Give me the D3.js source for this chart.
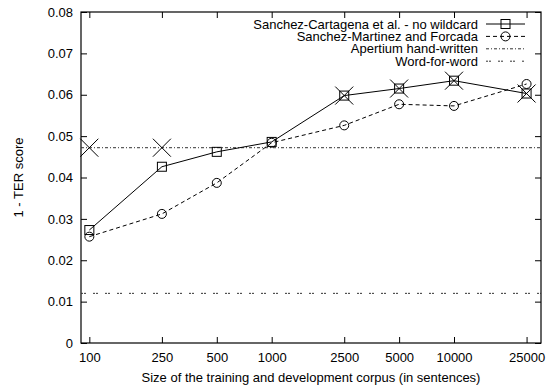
<!DOCTYPE html>
<html>
<head>
<meta charset="utf-8">
<script src="https://cdn.jsdelivr.net/npm/d3@7/dist/d3.min.js"></script>
<style>
  html, body { margin: 0; padding: 0; background: #fff; }
  svg { display: block; font-family: "Liberation Sans", Arial, Helvetica, sans-serif; }
</style>
</head>
<body>
<svg id="chart" width="553" height="389"></svg>
<script>
// Corpus sizes (sentences) and scores
const corpusSizes = [100, 250, 500, 1000, 2500, 5000, 10000, 25000];
const xTickLabels = ["100", "250", "500", "1000", "2500", "5000", "10000", "25000"];
const yTicks = [0, 0.01, 0.02, 0.03, 0.04, 0.05, 0.06, 0.07, 0.08];

const cartagenaNoWildcard = [0.0273, 0.0426, 0.0462, 0.0486, 0.0598, 0.0615, 0.0634, 0.0603];
const martinezForcada     = [0.0257, 0.0312, 0.0387, 0.0484, 0.0526, 0.0577, 0.0573, 0.0626];
const apertiumHandWritten = 0.0472;
const wordForWord         = 0.0120;

// Cross markers (sizes and scores)
const crossSizes  = [100, 250, 2500, 5000, 10000, 25000];
const crossScores = [0.0472, 0.0472, 0.0598, 0.0615, 0.0634, 0.0603];

const legendLabels = [
  "Sanchez-Cartagena et al. - no wildcard",
  "Sanchez-Martinez and Forcada",
  "Apertium hand-written",
  "Word-for-word"
];

const margin = { left: 81, right: 12, top: 12, bottom: 46 };
const width = 553, height = 389;
const svg = d3.select("#chart");

const x = d3.scaleLog().domain([90, 30000]).range([margin.left, width - margin.right]);
const y = d3.scaleLinear().domain([0, 0.08]).range([height - margin.bottom, margin.top]);

const fontSize = 13;
const tickLen = 6;

// Axes: ticks pointing inward, mirrored on opposite sides
const xBottom = d3.axisBottom(x).tickValues(corpusSizes)
  .tickFormat((d, i) => xTickLabels[i]).tickSizeInner(-tickLen).tickSizeOuter(0).tickPadding(10);
const xTop = d3.axisTop(x).tickValues(corpusSizes).tickFormat("").tickSizeInner(-tickLen).tickSizeOuter(0);
const yLeft = d3.axisLeft(y).tickValues(yTicks)
  .tickFormat(d => d === 0 ? "0" : d3.format(".2f")(d)).tickSizeInner(-tickLen).tickSizeOuter(0).tickPadding(8);
const yRight = d3.axisRight(y).tickValues(yTicks).tickFormat("").tickSizeInner(-tickLen).tickSizeOuter(0);

function styleAxis(g) {
  g.select(".domain").remove();
  g.selectAll("line").attr("stroke", "#000").attr("stroke-width", 1);
  g.selectAll("text").attr("font-size", fontSize).attr("fill", "#000")
    .attr("font-family", "Liberation Sans, Arial, sans-serif");
}

svg.append("g").attr("transform", `translate(0,${y(0)})`).call(xBottom).call(styleAxis);
svg.append("g").attr("transform", `translate(0,${y(0.08)})`).call(xTop).call(styleAxis);
svg.append("g").attr("transform", `translate(${x(90)},0)`).call(yLeft).call(styleAxis);
svg.append("g").attr("transform", `translate(${x(30000)},0)`).call(yRight).call(styleAxis);

// Frame
svg.append("rect")
  .attr("x", x(90)).attr("y", y(0.08))
  .attr("width", x(30000) - x(90)).attr("height", y(0) - y(0.08))
  .attr("fill", "none").attr("stroke", "#000").attr("stroke-width", 1.2);

// Axis titles
svg.append("text")
  .attr("x", (x(90) + x(30000)) / 2).attr("y", 382)
  .attr("text-anchor", "middle").attr("font-size", fontSize)
  .text("Size of the training and development corpus (in sentences)");
svg.append("text")
  .attr("transform", `translate(23,${(y(0) + y(0.08)) / 2}) rotate(-90)`)
  .attr("text-anchor", "middle").attr("font-size", fontSize)
  .text("1 - TER score");

const plot = svg.append("g");

// Reference horizontal lines
const dashDot = "3,2,1,2";
const pairDots = "2,1,2,7";
plot.append("line")
  .attr("x1", x(90)).attr("x2", x(30000))
  .attr("y1", y(apertiumHandWritten)).attr("y2", y(apertiumHandWritten))
  .attr("stroke", "#333").attr("stroke-width", 1).attr("stroke-dasharray", dashDot);
plot.append("line")
  .attr("x1", x(90)).attr("x2", x(30000))
  .attr("y1", y(wordForWord)).attr("y2", y(wordForWord))
  .attr("stroke", "#333").attr("stroke-width", 1).attr("stroke-dasharray", pairDots);

const line = d3.line().x(d => x(d[0])).y(d => y(d[1]));
const s1 = corpusSizes.map((c, i) => [c, cartagenaNoWildcard[i]]);
const s2 = corpusSizes.map((c, i) => [c, martinezForcada[i]]);

plot.append("path").datum(s2).attr("d", line)
  .attr("fill", "none").attr("stroke", "#000").attr("stroke-width", 1).attr("stroke-dasharray", "4,3");
plot.append("path").datum(s1).attr("d", line)
  .attr("fill", "none").attr("stroke", "#000").attr("stroke-width", 1);

const sq = 9, rad = 4.5, cr = 9;
function square(g, cx, cy) {
  g.append("rect").attr("x", cx - sq / 2).attr("y", cy - sq / 2)
    .attr("width", sq).attr("height", sq)
    .attr("fill", "none").attr("stroke", "#000").attr("stroke-width", 1);
}
function circle(g, cx, cy) {
  g.append("circle").attr("cx", cx).attr("cy", cy).attr("r", rad)
    .attr("fill", "none").attr("stroke", "#000").attr("stroke-width", 1);
}
function cross(g, cx, cy) {
  g.append("path")
    .attr("d", `M${cx - cr},${cy - cr}L${cx + cr},${cy + cr}M${cx - cr},${cy + cr}L${cx + cr},${cy - cr}`)
    .attr("stroke", "#000").attr("stroke-width", 1).attr("fill", "none");
}

s2.forEach(d => circle(plot, x(d[0]), y(d[1])));
s1.forEach(d => square(plot, x(d[0]), y(d[1])));
crossSizes.forEach((c, i) => cross(plot, x(c), y(crossScores[i])));

// Legend
const legend = svg.append("g");
const legX = 478, sampleX1 = 486, sampleX2 = 525, legY0 = 24, legStep = 12.4;
const samples = [
  { dash: null, mark: "square" },
  { dash: "4,3", mark: "circle" },
  { dash: dashDot, mark: null, color: "#333" },
  { dash: pairDots, mark: null, color: "#333" }
];
legendLabels.forEach((label, i) => {
  const ly = legY0 + i * legStep;
  legend.append("text").attr("x", legX).attr("y", ly).attr("dy", "0.35em")
    .attr("text-anchor", "end").attr("font-size", fontSize).text(label);
  legend.append("line").attr("x1", sampleX1).attr("x2", sampleX2)
    .attr("y1", ly).attr("y2", ly)
    .attr("stroke", samples[i].color || "#000").attr("stroke-width", 1)
    .attr("stroke-dasharray", samples[i].dash);
  const mx = (sampleX1 + sampleX2) / 2;
  if (samples[i].mark === "square") square(legend, mx, ly);
  if (samples[i].mark === "circle") circle(legend, mx, ly);
});
</script>
</body>
</html>
